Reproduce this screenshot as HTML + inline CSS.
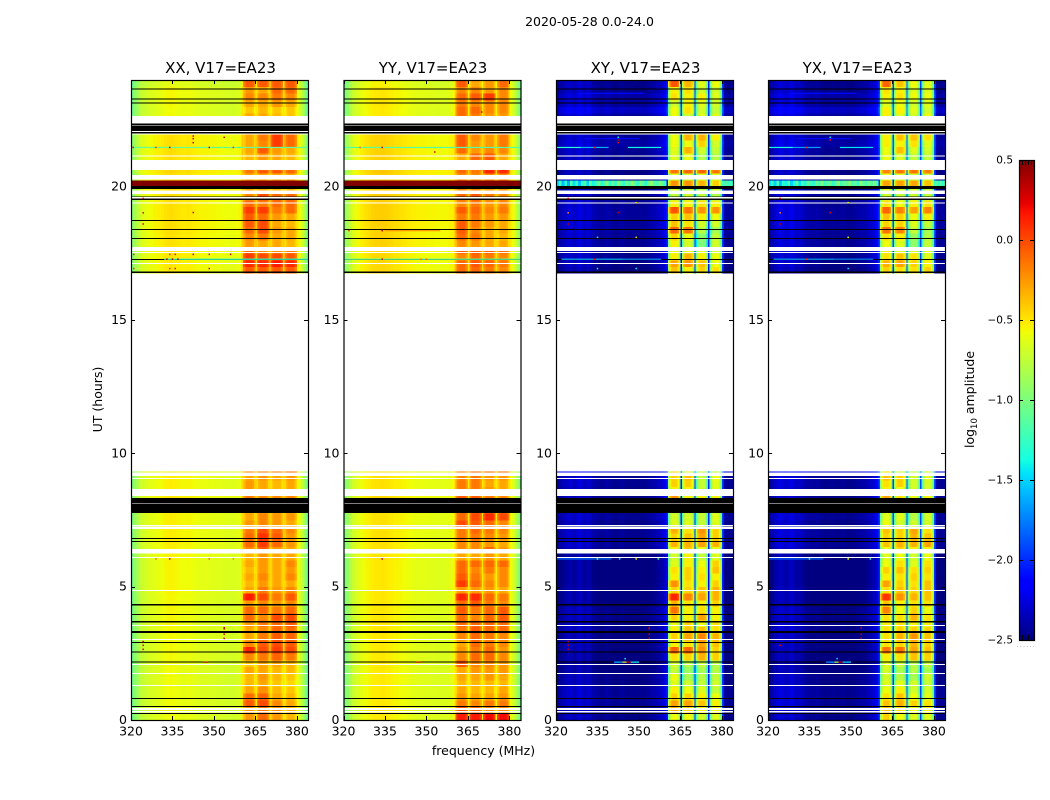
<!DOCTYPE html>
<html>
<head>
<meta charset="utf-8">
<title>2020-05-28 amplitude waterfall</title>
<style>
html,body{margin:0;padding:0;background:#fff;}
svg{display:block;}
text{font-family:"DejaVu Sans","Liberation Sans",sans-serif;fill:#000;}
</style>
</head>
<body>
<svg id="figure" xmlns="http://www.w3.org/2000/svg" width="1050" height="800" viewBox="0 0 1050 800">
<rect x="0" y="0" width="1050" height="800" fill="#fff"/>
<text x="589.5" y="26" font-size="12.5" text-anchor="middle">2020-05-28 0.0-24.0</text>
<text x="483.5" y="755" font-size="12.5" text-anchor="middle">frequency (MHz)</text>
<text x="102" y="399.5" font-size="12.5" text-anchor="middle" transform="rotate(-90 102 399.5)">UT (hours)</text>
<text x="974" y="399.5" font-size="12.5" text-anchor="middle" transform="rotate(-90 974 399.5)">log<tspan font-size="8.5" dy="3">10</tspan><tspan dy="-3"> amplitude</tspan></text>
</svg>
<script>
// Axis tick labels
const freqTicks = [320, 335, 350, 365, 380];
const hourTicks = [0, 5, 10, 15, 20];
const colorbarTicks = [0.5, 0, -0.5, -1, -1.5, -2, -2.5];
const panelTitles = ['XX, V17=EA23', 'YY, V17=EA23', 'XY, V17=EA23', 'YX, V17=EA23'];

// Start hour of each observed time row (each lasts a quarter hour)
const rowHours = [
0,.25,.5,.75,1,1.25,1.5,1.75,2,2.25,2.5,2.75,3,3.25,3.5,3.75,4,4.25,4.5,4.75,
5,5.25,5.5,5.75,6,6.25,6.5,6.75,7,7.25,7.5,7.75,8,8.25,8.5,8.75,9,9.25,
16.75,17,17.25,17.5,17.75,18,18.25,18.5,18.75,19,19.25,19.5,19.75,20,20.25,20.5,20.75,
21,21.25,21.5,21.75,22,22.25,22.5,22.75,23,23.25,23.5,23.75];

// Per-row levels: [low-frequency offset, band 1, band 2, band 3, band 4] in log10 amplitude
const xxRows = [
[-.05,-.25,-.1,-.25,-.35],[-.05,-.25,-.15,-.25,-.35],[-.05,-.05,0,-.2,-.3],[-.05,-.12,-.08,-.3,-.35],
[-.05,-.3,-.22,-.35,-.4],[-.05,-.35,-.3,-.4,-.45],[-.05,-.35,-.25,-.35,-.4],[-.05,-.3,-.3,-.35,-.35],
[-.05,-.4,-.3,-.3,-.35],[-.04,-.2,-.15,-.08,-.15],[-.04,.12,0,.05,0],[-.04,-.2,-.05,0,-.05],
[-.04,-.3,-.15,-.05,-.08],[-.04,-.3,-.2,-.08,-.1],[-.03,-.25,-.15,-.1,-.05],[-.03,-.1,-.2,0,0],
[-.03,-.1,-.1,-.15,-.1],[-.03,-.25,-.2,-.25,-.2],[-.03,.15,0,-.15,-.05],[-.02,-.3,-.15,-.25,-.2],
[-.02,-.35,-.25,-.3,-.3],[-.02,-.3,-.2,-.3,-.2],[-.02,-.35,-.25,-.3,-.25],[-.02,-.3,-.25,-.3,-.2],
[-.01,-.35,-.25,-.3,-.3],[-.01,-.2,-.05,-.25,-.3],[0,-.1,.05,-.1,-.25],[0,-.1,.08,-.05,-.25],
[0,-.15,0,-.1,-.2],[0,-.25,-.2,-.25,-.3],[0,-.3,-.2,-.25,-.25],[0,-.3,-.25,-.3,-.3],
[0,-.3,-.25,-.3,-.3],[.02,-.15,-.2,-.2,-.2],[0,-.25,-.3,-.35,-.3],[0,-.25,-.3,-.35,-.3],
[0,-.3,-.25,-.3,-.25],[0,-.2,-.15,-.15,-.1],
[.02,-.05,-.05,-.05,-.05],
[.02,.1,.1,.15,.1],[.03,.05,0,0,-.05],[.03,-.1,-.2,-.2,-.15],[.04,-.25,-.3,-.3,-.35],
[.04,-.2,-.15,-.3,-.3],[.05,-.1,0,-.25,-.3],[.05,-.05,0,-.3,-.35],[.05,-.05,-.1,-.25,-.3],
[.05,.05,.05,-.15,-.1],[.05,-.1,-.15,-.1,-.1],[.05,-.2,0,-.1,-.1],[.05,-.3,-.3,-.35,-.35],
[2,.8,.8,.8,.8],[.05,-.3,-.3,-.3,-.3],[.08,-.15,-.05,-.05,-.1],[.05,-.3,-.3,-.3,-.3],
[.05,-.35,-.25,-.3,-.35],[.05,-.3,-.05,-.25,-.3],[.05,-.3,-.2,.05,-.1],[.05,-.3,-.15,.05,-.1],
[0,-.3,-.3,-.35,-.4],[0,-.3,-.3,-.35,-.4],[-.04,-.3,-.3,-.35,-.4],[-.05,-.4,-.35,-.4,-.4],
[-.04,-.3,-.3,-.25,-.3],[-.03,-.2,-.2,-.15,-.2],[-.03,-.25,-.3,-.1,-.1],[-.08,-.05,-.05,-.05,-.05]];

const yyRows = [
[-.03,.15,.15,.2,.2],[-.03,-.05,-.1,-.2,-.2],[-.03,-.15,-.2,-.15,-.15],[-.03,-.25,-.3,-.3,-.25],
[-.03,-.3,-.35,-.35,-.3],[-.03,-.35,-.35,-.35,-.35],[-.03,-.3,-.3,-.25,-.3],[-.03,-.3,-.25,-.25,-.25],
[-.03,-.05,-.2,-.2,-.25],[-.03,-.2,-.1,-.1,-.2],[-.03,-.25,-.15,-.1,-.25],[-.03,-.3,-.1,-.15,-.2],
[-.02,-.2,-.1,-.15,-.2],[-.02,-.15,-.05,-.1,-.1],[-.02,-.1,-.1,-.1,-.1],[-.02,-.1,-.2,-.1,-.05],
[-.02,-.05,-.15,-.1,-.05],[-.02,-.1,-.05,-.15,-.2],[-.02,.12,.1,-.1,-.15],[-.02,-.25,-.25,-.25,-.3],
[-.02,.05,-.1,-.2,-.2],[-.02,-.05,-.15,-.25,-.2],[-.02,-.1,-.2,-.15,-.2],[-.02,-.1,-.1,-.1,-.1],
[-.01,-.3,-.3,-.25,-.3],[0,-.2,-.2,-.1,-.25],[0,-.2,-.2,-.25,-.3],[0,-.15,-.15,-.2,-.25],
[0,-.15,-.1,-.15,-.2],[0,0,-.05,-.1,-.2],[0,-.1,0,.1,0],[0,-.1,-.05,-.05,-.1],
[0,-.1,-.05,-.05,-.1],[.02,-.05,-.05,-.15,-.2],[0,-.15,-.15,-.25,-.3],[0,-.15,-.15,-.3,-.3],
[0,-.2,-.15,-.25,-.25],[0,-.15,-.1,-.1,-.1],
[.03,-.1,-.1,-.15,-.2],
[.03,-.1,-.05,-.1,-.15],[.03,-.2,-.1,-.15,-.2],[.03,-.05,-.05,-.05,-.1],[.05,-.2,-.25,-.3,-.3],
[.05,-.1,-.15,-.3,-.35],[.05,-.05,-.2,-.3,-.3],[.06,-.05,-.15,-.25,-.3],[.06,-.15,-.15,-.25,-.25],
[.06,-.05,-.1,-.2,-.15],[.06,-.2,-.15,-.25,-.2],[.06,-.1,-.05,-.15,-.2],[.06,-.2,-.2,-.25,-.25],
[2,.8,.8,.8,.8],[.06,-.2,-.2,-.2,-.2],[.08,-.1,-.15,.12,.1],[.05,-.2,-.2,-.2,-.2],
[.05,-.3,-.1,-.05,-.3],[.05,-.1,-.25,-.2,-.2],[.05,-.05,-.25,-.25,-.15],[.05,-.05,-.2,-.25,-.15],
[0,-.1,-.2,-.3,-.2],[0,-.1,-.2,-.3,-.2],[-.03,-.1,-.15,-.25,-.25],[-.03,-.1,-.1,-.2,-.2],
[-.02,-.15,-.2,-.2,-.2],[-.02,-.1,-.05,.05,-.2],[-.02,-.2,-.2,-.25,-.2],[-.06,-.05,-.3,-.25,-.1]];

const xyRows = [
[.05,-.75,-.75,-.85,-.8],[.05,-.5,-.6,-.7,-.7],[.08,-.45,-.45,-.55,-.7],[.08,-.6,-.6,-.7,-.75],
[.08,-.7,-.75,-.8,-.9],[.04,-.8,-.85,-.9,-.85],[.04,-.75,-1,-.95,-.9],[0,-.9,-1.05,-1,-.95],
[0,-.85,-.95,-.9,-.95],[0,-.65,-.6,-.5,-.6],[.02,-.25,-.25,-.4,-.6],[.02,-.7,-.65,-.45,-.55],
[.02,-.6,-.45,-.35,-.5],[.05,-.7,-.55,-.55,-.65],[.05,-.75,-.6,-.75,-.65],[.04,-.6,-.7,-.45,-.7],
[.04,-.3,-.7,-.65,-.7],[0,-.5,-.65,-.7,-.6],[0,-.05,-.35,-.45,-.5],[0,-.6,-.6,-.55,-.5],
[-.02,-.4,-.65,-.7,-.6],[-.02,-.7,-.6,-.65,-.7],[-.02,-.65,-.6,-.7,-.55],[-.02,-.8,-.7,-.75,-.6],
[-.02,-.85,-.7,-.9,-.8],[.05,-.7,-.55,-.75,-.75],[.08,-.5,-.5,-.45,-.5],[.08,-.6,-.55,-.45,-.6],
[.08,-.5,-.65,-.4,-.6],[.05,-.8,-.8,-.9,-.8],[.08,-.85,-.85,-.9,-.8],[.05,-.9,-.9,-.9,-.9],
[.05,-.9,-.9,-.9,-.9],[.05,-.4,-.7,-.7,-.7],[.05,-.7,-.7,-.9,-.8],[.08,-.6,-.6,-.9,-.8],
[.08,-.6,-.55,-.9,-.75],[.25,-.6,-.8,-.9,-.9],
[.02,-.55,-.7,-.6,-.65],
[.05,-.45,-.4,-.55,-.75],[.06,-.7,-.5,-.7,-.75],[.06,-.75,-.75,-.8,-.85],[.08,-.7,-.85,-1.15,-.85],
[.08,-.6,-.75,-1.1,-.9],[.1,-.25,-.3,-.95,-1],[.1,-.55,-.65,-.85,-.85],[.1,-.6,-.55,-.7,-.75],
[.1,-.2,-.3,-.4,-.4],[.08,-.7,-.7,-.65,-.7],[.08,-.9,-.85,-.9,-.95],[.04,-.85,-.85,-.9,-.85],
[0,-.4,-.4,-.5,-.6],[.04,-.8,-.85,-.8,-.8],[.04,-.3,-.25,-.25,-.3],[.04,-.8,-.8,-.8,-.8],
[.06,-.8,-.75,-.95,-.95],[.08,-.8,-.5,-.85,-.9],[.12,-.75,-.75,-.6,-.85],[.08,-.75,-.5,-.5,-.7],
[.08,-.7,-.7,-.8,-.8],[.08,-.7,-.7,-.8,-.8],[.1,-.75,-.85,-.8,-.8],[.2,-.75,-.65,-.85,-.9],
[.1,-.85,-.7,-.8,-.85],[.12,-.65,-.7,-.7,-.8],[.06,-.7,-.65,-.85,-.85],[.06,-.2,-.5,-.8,-.75]];

const yxRows = [
[.05,-.6,-.75,-.8,-.8],[.05,-.55,-.65,-.75,-.7],[.08,-.55,-.5,-.6,-.65],[.08,-.65,-.55,-.75,-.8],
[.08,-.75,-.7,-.85,-.85],[.04,-.8,-.8,-.85,-.9],[.04,-.85,-.95,-1,-.85],[0,-.85,-1,-.95,-1],
[0,-.8,-.9,-.95,-.9],[0,-.7,-.65,-.55,-.6],[.02,-.3,-.3,-.45,-.55],[.02,-.65,-.6,-.5,-.6],
[.02,-.65,-.5,-.4,-.55],[.05,-.65,-.6,-.6,-.6],[.05,-.7,-.65,-.7,-.7],[.04,-.65,-.65,-.5,-.65],
[.04,-.35,-.75,-.6,-.75],[0,-.55,-.7,-.65,-.65],[0,-.1,-.4,-.5,-.55],[0,-.65,-.55,-.6,-.55],
[-.02,-.45,-.6,-.65,-.55],[-.02,-.7,-.65,-.6,-.65],[-.02,-.6,-.55,-.65,-.6],[-.02,-.75,-.65,-.8,-.65],
[-.02,-.8,-.75,-.85,-.75],[.05,-.75,-.6,-.7,-.7],[.08,-.55,-.5,-.5,-.45],[.08,-.6,-.6,-.5,-.55],
[.08,-.55,-.6,-.45,-.65],[.05,-.75,-.85,-.85,-.85],[.08,-.8,-.8,-.95,-.85],[.05,-.85,-.9,-.9,-.9],
[.05,-.85,-.9,-.9,-.9],[.05,-.45,-.65,-.75,-.7],[.05,-.7,-.75,-.85,-.85],[.08,-.65,-.6,-.85,-.85],
[.08,-.55,-.6,-.85,-.8],[.25,-.65,-.85,-.9,-.85],
[.02,-.6,-.65,-.65,-.6],
[.05,-.5,-.45,-.6,-.7],[.06,-.65,-.55,-.65,-.8],[.06,-.7,-.8,-.85,-.8],[.08,-.75,-.8,-1.1,-.9],
[.08,-.65,-.7,-1.05,-.95],[.1,-.3,-.35,-.9,-1],[.1,-.6,-.6,-.8,-.9],[.1,-.55,-.6,-.75,-.7],
[.1,-.25,-.35,-.45,-.35],[.08,-.65,-.75,-.7,-.65],[.08,-.85,-.9,-.85,-.9],[.04,-.8,-.85,-.85,-.9],
[0,-.45,-.45,-.45,-.55],[.04,-.75,-.8,-.85,-.85],[.04,-.35,-.3,-.3,-.35],[.04,-.75,-.85,-.85,-.8],
[.06,-.75,-.8,-.9,-.9],[.08,-.75,-.55,-.8,-.85],[.12,-.7,-.7,-.65,-.8],[.08,-.7,-.55,-.55,-.65],
[.08,-.75,-.75,-.75,-.75],[.08,-.75,-.75,-.75,-.75],[.1,-.7,-.8,-.85,-.75],[.2,-.7,-.7,-.8,-.85],
[.1,-.8,-.75,-.85,-.8],[.12,-.7,-.65,-.75,-.75],[.06,-.65,-.7,-.8,-.8],[.06,-.25,-.55,-.75,-.8]];

// Low-band level for each 1 MHz channel from 320 to 359
const xxLowChannels = [-1,-.9,-.8,-.72,-.68,-.65,-.63,-.62,-.6,-.59,-.58,-.56,-.54,-.53,-.52,-.53,-.54,-.55,-.56,-.56,-.55,-.56,-.57,-.58,-.59,-.6,-.6,-.6,-.61,-.61,-.61,-.62,-.62,-.63,-.63,-.63,-.64,-.64,-.62,-.6];
const yyLowChannels = [-.98,-.88,-.78,-.7,-.65,-.62,-.58,-.56,-.54,-.52,-.5,-.49,-.49,-.48,-.48,-.49,-.5,-.51,-.53,-.53,-.54,-.55,-.56,-.57,-.58,-.59,-.6,-.6,-.6,-.6,-.61,-.61,-.61,-.62,-.62,-.62,-.62,-.62,-.6,-.58];
const xyLowChannels = [-2.5,-2.48,-2.44,-2.4,-2.37,-2.36,-2.42,-2.38,-2.34,-2.37,-2.42,-2.36,-2.4,-2.46,-2.48,-2.5,-2.52,-2.5,-2.48,-2.5,-2.52,-2.54,-2.52,-2.5,-2.52,-2.54,-2.54,-2.52,-2.54,-2.54,-2.52,-2.54,-2.52,-2.5,-2.48,-2.46,-2.44,-2.4,-2.36,-2.3];
const yxLowChannels = [-2.48,-2.46,-2.4,-2.34,-2.32,-2.34,-2.38,-2.34,-2.32,-2.36,-2.4,-2.38,-2.42,-2.46,-2.48,-2.5,-2.5,-2.48,-2.5,-2.52,-2.54,-2.54,-2.52,-2.52,-2.54,-2.54,-2.52,-2.52,-2.54,-2.54,-2.54,-2.52,-2.5,-2.48,-2.48,-2.46,-2.42,-2.38,-2.34,-2.28];

// Level for each 0.5 MHz channel from 380 to 383.5
const xxEdgeChannels = [-.55,-.6,-.65,-.7,-.78,-.85,-.95,-1.05];
const yyEdgeChannels = [-.55,-.58,-.62,-.68,-.75,-.82,-.92,-1];
const xyEdgeChannels = [-2,-2.42,-2.5,-2.52,-2.54,-2.54,-2.52,-2.48];
const yxEdgeChannels = [-1.95,-2.4,-2.5,-2.52,-2.54,-2.52,-2.5,-2.48];

// Relative level across the nine 0.5 MHz channels of one sub-band
const parallelBandShape = [-.15,-.06,0,0,0,0,0,-.05,-.15];
const crossBandShape = [-.3,.03,.15,.17,.17,.17,.15,.03,-.35];

// Level in the narrow gaps between sub-bands
const xxGapLevel = -.45;
const yyGapLevel = -.5;
const xyGapLevel = -2.1;
const yxGapLevel = -2;

// Speckled low-band and edge values of the 20.0 h row in the cross hands
const xyNoisyRow = [-1.5,-1.2,-1.55,-1.3,-1.6,-1.15,-1.45,-1.25,-1.55,-1.3,-1.2,-1.5,-1.1,-1.4,-1.25,-1.05,-1.35,-1.15,-1,-1.3,-1.1,-1.25,-.95,-1.15,-1.3,-1.05,-1.2,-.95,-1.1,-1.25,-1,-1.15,-1.3,-1.05,-.95,-1.15,-1.2,-1,-1.1,-1.25,-1.2,-1.1,-1.3,-1.15,-1.25,-1.1,-1.2,-1.3];
const yxNoisyRow = [-1.45,-1.25,-1.5,-1.2,-1.55,-1.3,-1.4,-1.15,-1.5,-1.35,-1.15,-1.45,-1.2,-1.35,-1.1,-1.25,-1.3,-1.05,-1.2,-1,-1.25,-1.15,-1.05,-1.3,-1.1,-.95,-1.25,-1.05,-1.15,-1,-1.2,-1.1,-1.25,-.95,-1.1,-1.2,-1.05,-1.15,-1,-1.2,-1.25,-1.05,-1.2,-1.3,-1.1,-1.2,-1.3,-1.15];

// Flagged time ranges shared by all panels: [start hour, end hour]
const whiteFlags = [[.29,.34],[.38,.45],[1.28,1.31],[1.73,1.76],[2.06,2.1],[3,3.04],[3.53,3.56],[4.84,4.88],[6.07,6.11],[6.25,6.41],[7.17,7.23],[7.26,7.31],[8.11,8.14],[8.4,8.66],[9.04,9.07],[9.15,9.28],[9.32,9.5],[17.1,17.14],[17.51,17.55],[17.59,17.74],[19.36,19.4],[19.56,19.61],[19.72,19.85],[20.27,20.44],[20.63,21],[21.14,21.17],[21.95,22],[22.05,22.09],[22.29,22.32],[22.37,22.65]];
const blackFlags = [[.22,.26],[.49,.52],[.79,.82],[2.16,2.19],[2.53,2.57],[2.89,2.92],[3.27,3.34],[3.65,3.71],[3.94,3.98],[4.29,4.35],[6.67,6.71],[6.79,6.83],[7.77,8.11],[8.14,8.32],[16.76,16.81],[17.25,17.29],[18.04,18.08],[18.38,18.41],[18.71,18.75],[19.5,19.56],[19.61,19.63],[19.91,20.02],[22,22.05],[22.09,22.29],[22.32,22.37],[23.11,23.16],[23.26,23.3],[23.64,23.68]];

// Thin interference streaks: [hour, start MHz, end MHz, level]
const xxStreaks = [[21.47,320,384,-1.1],[17.28,332,384,-1.25],[2.17,346,348,.45]];
const yyStreaks = [[21.47,320,384,-1.15],[17.28,320,384,-1.1],[18.35,335,355,-.25],[2.17,346,348,.4]];
const xyStreaks = [[21.47,320,329,-1.3],[21.47,329,339,-1.6],[21.47,346,358,-1.4],[17.28,322,344,-1.6],[17.28,344,358,-1.7],[6.04,320,340,-1.8],[23.5,328,352,-2.1],[21.8,330,350,-2.1],[2.17,341,344,-1.6],[2.17,344,345.5,-.7],[2.17,345.5,347,.3],[2.17,347,350,-1.4]];
const yxStreaks = [[21.47,320,329,-1.35],[21.47,329,339,-1.65],[21.47,346,358,-1.45],[17.28,322,344,-1.65],[17.28,344,358,-1.75],[6.04,320,340,-1.85],[23.5,328,352,-2.1],[21.8,330,350,-2.1],[2.17,341,344,-1.7],[2.17,344,345.5,-.8],[2.17,345.5,347,.3],[2.17,347,350,-1.5]];

// Isolated bright samples: [hour, MHz, level]
const xxSpikes = [[21.9,342.5,.3],[21.8,342.5,.3],[21.65,342.5,.3],[21.85,353.7,.3],[21.47,320.8,.2],[21.47,329,.1],[21.47,334,.3],[21.47,348.3,.3],[21.47,357,.1],[19.56,324.4,.3],[19.02,324.4,.3],[19.03,342.5,.3],[18.6,324.4,.3],[17.46,321,.1],[17.46,334,.1],[17.46,336,.2],[17.46,342.5,.3],[17.46,348.3,.2],[17.46,356,.3],[17.28,333,.4],[17.28,335,.4],[17.28,337,.4],[16.93,321,.1],[16.93,334,.1],[16.93,336,.2],[16.93,348.3,.3],[2.94,324.4,.3],[2.8,324.4,.3],[2.65,324.4,.3],[3.46,353.7,.3],[3.42,353.7,.3],[3.22,353.7,.3],[3.06,353.7,.3],[6.04,329,-.1],[6.04,334,.3],[6.04,348.3,-.1],[6.04,357,-.2]];
const yySpikes = [[21.47,334,.3],[21.47,326,-.1],[21.3,353,.3],[18.35,322,.1],[18.35,334,.3],[17.28,334,.3],[17.28,348,-.1],[17.28,350,-.1],[6.04,334,.3],[22.8,370,.3]];
const xySpikes = [[21.85,342.5,-1.4],[21.75,342.5,.3],[21.65,342.5,.2],[21.47,334,.2],[19.56,324.4,.3],[19.02,324.4,-.2],[19.03,342.5,.3],[18.6,324.4,.3],[19.4,349,-.5],[18.1,349,-.5],[18.1,335,-1.4],[17.28,334,.2],[16.93,335,-1.4],[16.93,349,-1.4],[3.46,353.7,.3],[3.42,353.7,.3],[3.22,353.7,.3],[3.06,353.7,.3],[2.94,324.4,.3],[2.8,324.4,.3],[2.65,324.4,.3],[6.04,335,-.9],[6.04,343,-1.4],[6.04,349,-.5],[6.04,357,-1.2],[2.3,345,-1.4]];
const yxSpikes = [[21.85,342.5,-1.4],[21.75,342.5,.2],[21.47,334,.1],[19.56,324.4,.3],[19.02,324.4,-.2],[19.03,342.5,.2],[18.6,324.4,.3],[19.4,349,-.6],[18.1,349,-.6],[17.28,334,.1],[16.93,349,-1.5],[3.46,353.7,.3],[3.22,353.7,.3],[3.06,353.7,.3],[2.8,324.4,.2],[6.04,335,-1],[6.04,349,-.6],[6.04,357,-1.3],[2.3,345,-1.5]];

const SVG_NS = 'http://www.w3.org/2000/svg';
const figure = document.getElementById('figure');
const PLOT_TOP = 80, PLOT_BOTTOM = 720, PLOT_WIDTH = 177;
const FREQ_MIN = 320, FREQ_MAX = 384, HOUR_MAX = 24, ROW_SPAN = .25;
const LEVEL_MIN = -2.5, LEVEL_MAX = .5;

function yScale(hour) {
  return PLOT_BOTTOM - (hour / HOUR_MAX) * (PLOT_BOTTOM - PLOT_TOP);
}
function xScale(left, freq) {
  return left + ((freq - FREQ_MIN) / (FREQ_MAX - FREQ_MIN)) * PLOT_WIDTH;
}
function interp(points, t) {
  for (let i = 1; i < points.length; i++) {
    if (t <= points[i][0]) {
      const a = points[i - 1], b = points[i];
      return a[1] + (b[1] - a[1]) * (t - a[0]) / (b[0] - a[0]);
    }
  }
  return points[points.length - 1][1];
}
function jetColor(level) {
  const t = Math.min(1, Math.max(0, (level - LEVEL_MIN) / (LEVEL_MAX - LEVEL_MIN)));
  const r = interp([[0,0],[.35,0],[.66,1],[.89,1],[1,.5]], t);
  const g = interp([[0,0],[.125,0],[.375,1],[.64,1],[.91,0],[1,0]], t);
  const b = interp([[0,.5],[.11,1],[.34,1],[.65,0],[1,0]], t);
  return 'rgb(' + Math.round(r * 255) + ',' + Math.round(g * 255) + ',' + Math.round(b * 255) + ')';
}
function make(tag, attrs, parent) {
  const el = document.createElementNS(SVG_NS, tag);
  for (const key in attrs) el.setAttribute(key, attrs[key]);
  parent.appendChild(el);
  return el;
}
function cellLevel(rows, rowIndex, channel, low, edge, gap, shape, noisy) {
  const row = rows[rowIndex];
  const useNoise = noisy && rowHours[rowIndex] === 20;
  if (channel < 40) return useNoise ? noisy[channel] : low[channel] + row[0];
  const j = channel - 40;
  if (j >= 40) return useNoise ? noisy[j] : edge[j - 40] + row[0];
  if (j === 0) return gap + row[0];
  const pos = (j - 1) % 10;
  if (pos === 9) return gap + row[0];
  return row[1 + Math.floor((j - 1) / 10)] + shape[pos];
}
function channelStart(channel) {
  return channel < 40 ? FREQ_MIN + channel : 360 + (channel - 40) * .5;
}
function channelEnd(channel) {
  return channel < 40 ? FREQ_MIN + channel + 1 : 360 + (channel - 39) * .5;
}

function drawPanel(p) {
  const panel = make('g', {}, figure);
  
  
  const frag = document.createDocumentFragment();
  const cells = make('g', {'shape-rendering': 'crispEdges'}, frag);
  
  
  for (let r = 0; r < rowHours.length; r++) {
    const yTop = yScale(rowHours[r] + ROW_SPAN);
    const h = yScale(rowHours[r]) - yTop;
    for (let c = 0; c < 88; c++) {
      const x0 = xScale(p.left, channelStart(c));
      const x1 = xScale(p.left, channelEnd(c));
      const level = cellLevel(p.rows, r, c, p.low, p.edge, p.gap, p.shape, p.noisy);
      const cell = make('rect', {x: x0.toFixed(2), y: yTop.toFixed(2), width: (x1 - x0 + .4).toFixed(2), height: (h + .4).toFixed(2), fill: jetColor(level)}, cells);
      
      
    }
  }
  const xA = xScale(p.left, FREQ_MIN), xB = xScale(p.left, FREQ_MAX);
  const flags = make('g', {'shape-rendering': 'crispEdges'}, frag);
  
  
  whiteFlags.forEach(function (f) {
    const band = make('rect', {x: xA, y: yScale(f[1]), width: xB - xA, height: yScale(f[0]) - yScale(f[1]), fill: '#fff'}, flags);
    
    
  });
  blackFlags.forEach(function (f) {
    const band = make('rect', {x: xA, y: yScale(f[1]), width: xB - xA, height: yScale(f[0]) - yScale(f[1]), fill: '#000'}, flags);
    
    
  });
  p.streaks.forEach(function (s) {
    const x0 = xScale(p.left, s[1]);
    const streak = make('rect', {x: x0, y: yScale(s[0]) - .6, width: xScale(p.left, s[2]) - x0, height: 1.2, fill: jetColor(s[3])}, frag);
    
    
  });
  p.spikes.forEach(function (s) {
    const spike = make('rect', {x: xScale(p.left, s[1]) - .75, y: yScale(s[0]) - .75, width: 1.5, height: 1.5, fill: jetColor(s[2])}, frag);
    
    
  });
  const frame = make('rect', {x: p.left + .5, y: PLOT_TOP + .5, width: PLOT_WIDTH, height: PLOT_BOTTOM - PLOT_TOP, fill: 'none', stroke: '#000', 'stroke-width': 1.2}, frag);
  
  
  freqTicks.forEach(function (t) {
    const x = Math.round(xScale(p.left, t)) + .5;
    const bottomTick = make('line', {x1: x, x2: x, y1: PLOT_BOTTOM, y2: PLOT_BOTTOM - 4, stroke: '#000'}, frag);
    
    
    const topTick = make('line', {x1: x, x2: x, y1: PLOT_TOP, y2: PLOT_TOP + 4, stroke: '#000'}, frag);
    
    
    const label = make('text', {x: xScale(p.left, t), y: PLOT_BOTTOM + 15.5, 'font-size': 12.5, 'text-anchor': 'middle'}, frag);
    label.textContent = String(t);
    
    
  });
  hourTicks.forEach(function (t) {
    const y = Math.round(yScale(t)) + .5;
    const leftTick = make('line', {x1: p.left, x2: p.left + 4, y1: y, y2: y, stroke: '#000'}, frag);
    
    
    const rightTick = make('line', {x1: p.left + PLOT_WIDTH, x2: p.left + PLOT_WIDTH - 4, y1: y, y2: y, stroke: '#000'}, frag);
    
    
    const label = make('text', {x: p.left - 4, y: yScale(t) + 4, 'font-size': 12.5, 'text-anchor': 'end'}, frag);
    label.textContent = String(t);
    
    
  });
  const title = make('text', {x: p.left + PLOT_WIDTH / 2 + 1, y: 73, 'font-size': 15, 'text-anchor': 'middle'}, frag);
  title.textContent = p.title;
  
  
  panel.appendChild(frag);
}

drawPanel({name: 'xx', title: panelTitles[0], left: 131, rows: xxRows, low: xxLowChannels, edge: xxEdgeChannels, gap: xxGapLevel, shape: parallelBandShape, noisy: null, streaks: xxStreaks, spikes: xxSpikes});
drawPanel({name: 'yy', title: panelTitles[1], left: 343.5, rows: yyRows, low: yyLowChannels, edge: yyEdgeChannels, gap: yyGapLevel, shape: parallelBandShape, noisy: null, streaks: yyStreaks, spikes: yySpikes});
drawPanel({name: 'xy', title: panelTitles[2], left: 556, rows: xyRows, low: xyLowChannels, edge: xyEdgeChannels, gap: xyGapLevel, shape: crossBandShape, noisy: xyNoisyRow, streaks: xyStreaks, spikes: xySpikes});
drawPanel({name: 'yx', title: panelTitles[3], left: 768, rows: yxRows, low: yxLowChannels, edge: yxEdgeChannels, gap: yxGapLevel, shape: crossBandShape, noisy: yxNoisyRow, streaks: yxStreaks, spikes: yxSpikes});

// Colorbar
const CB_LEFT = 1019, CB_WIDTH = 15, CB_TOP = 160, CB_BOTTOM = 640, CB_STEPS = 240;
function cbScale(level) {
  return CB_BOTTOM - ((level - LEVEL_MIN) / (LEVEL_MAX - LEVEL_MIN)) * (CB_BOTTOM - CB_TOP);
}
const colorbar = make('g', {}, figure);


const ramp = make('g', {'shape-rendering': 'crispEdges'}, colorbar);


for (let i = 0; i < CB_STEPS; i++) {
  const lvl = LEVEL_MIN + (i + .5) * (LEVEL_MAX - LEVEL_MIN) / CB_STEPS;
  const swatch = make('rect', {x: CB_LEFT, y: cbScale(lvl) - 1, width: CB_WIDTH, height: 2.2, fill: jetColor(lvl)}, ramp);
  
  
}
const cbFrame = make('rect', {x: CB_LEFT + .5, y: CB_TOP + .5, width: CB_WIDTH, height: CB_BOTTOM - CB_TOP, fill: 'none', stroke: '#000', 'stroke-width': 1.2}, colorbar);


colorbarTicks.forEach(function (t) {
  const y = Math.round(cbScale(t)) + .5;
  const leftTick = make('line', {x1: CB_LEFT, x2: CB_LEFT + 4, y1: y, y2: y, stroke: '#000'}, colorbar);
  
  
  const rightTick = make('line', {x1: CB_LEFT + CB_WIDTH, x2: CB_LEFT + CB_WIDTH - 4, y1: y, y2: y, stroke: '#000'}, colorbar);
  
  
  const label = make('text', {x: CB_LEFT - 6, y: cbScale(t) + 3.5, 'font-size': 10.5, 'text-anchor': 'end'}, colorbar);
  label.textContent = (t < 0 ? '\u2212' : '') + Math.abs(t).toFixed(1);
  
  
});
for (let i = 0; i <= 5; i++) {
  const x = CB_LEFT + .5 + i * CB_WIDTH / 5;
  const capTop = make('line', {x1: x, x2: x, y1: CB_TOP, y2: CB_TOP + 5, stroke: '#000'}, colorbar);
  
  
  const capBottom = make('line', {x1: x, x2: x, y1: CB_BOTTOM, y2: CB_BOTTOM - 5, stroke: '#000'}, colorbar);
  
  
}
const cbDots = make('text', {x: CB_LEFT + 7.5, y: 647, 'font-size': 5, 'letter-spacing': 1.6, 'text-anchor': 'middle', 'fill-opacity': .7}, colorbar);
cbDots.textContent = '......';


</script>
</body>
</html>
